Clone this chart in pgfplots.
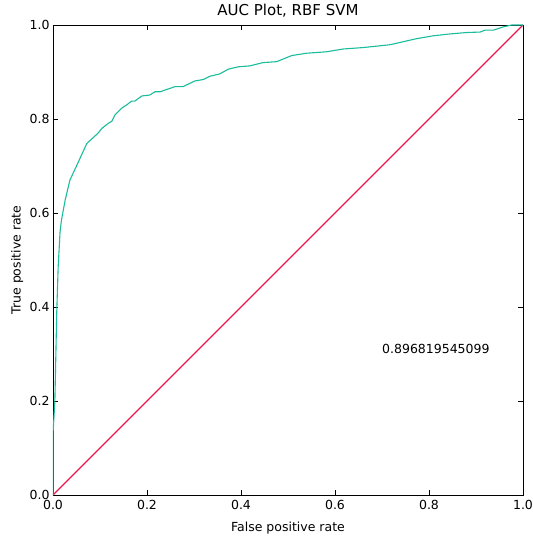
\documentclass[border=0pt]{standalone}
\usepackage{fontspec}
\setmainfont{DejaVu Sans}
\usepackage{pgfplots}
\pgfplotsset{compat=1.18}
\usetikzlibrary{calc}
\definecolor{roc}{RGB}{26,188,156}
\definecolor{diag}{RGB}{235,25,75}
\begin{document}
\begin{tikzpicture}
\begin{axis}[
  name=ax,
  scale only axis,
  width=470pt, height=470pt,
  xmin=0, xmax=1, ymin=0, ymax=1,
  xtick={0,0.2,...,1.0}, ytick={0,0.2,...,1.0},
  tick align=inside,
  major tick length=5pt,
  tick style={black, line width=0.6pt},
  axis line style={black, line width=0.8pt},
  xticklabel style={/pgf/number format/fixed,/pgf/number format/precision=1,/pgf/number format/fixed zerofill, font=\fontsize{12.5}{14}\selectfont, yshift=-1.5pt},
  yticklabel style={/pgf/number format/fixed,/pgf/number format/precision=1,/pgf/number format/fixed zerofill, font=\fontsize{12.5}{14}\selectfont},
  /pgf/number format/assume math mode=true,
  title={AUC Plot, RBF SVM},
  title style={font=\fontsize{15}{17}\selectfont, at={(axis description cs:0.5,1.0074)}, anchor=base},
  xlabel={False positive rate},
  ylabel={True positive rate},
  label style={font=\fontsize{12.5}{14}\selectfont},
  xlabel style={at={(axis description cs:0.5,-0.0787)}, anchor=base},
  ylabel style={at={(axis description cs:-0.069,0.5)}, anchor=base},
]
\addplot[diag, line width=1.1pt] coordinates {(0,0) (1,1)};
\addplot[roc, line width=1.1pt] coordinates {
(0,0) (0.0,0.13) (0.004,0.2) (0.008,0.39) (0.011,0.485) (0.015,0.56) (0.018,0.585)
(0.026,0.628) (0.036,0.67) (0.05,0.70) (0.072,0.748) (0.096,0.77) (0.104,0.78)
(0.118,0.791) (0.125,0.795) (0.132,0.809) (0.146,0.823) (0.157,0.830) (0.167,0.838)
(0.174,0.838) (0.189,0.849) (0.206,0.851) (0.217,0.858) (0.228,0.858) (0.260,0.869)
(0.277,0.869) (0.302,0.881) (0.320,0.884) (0.334,0.891) (0.355,0.896) (0.373,0.906)
(0.394,0.911) (0.419,0.913) (0.447,0.920) (0.476,0.922) (0.508,0.935) (0.540,0.940)
(0.582,0.943) (0.618,0.949) (0.660,0.952) (0.717,0.958) (0.774,0.971) (0.809,0.977)
(0.845,0.981) (0.880,0.984) (0.909,0.985) (0.919,0.989) (0.937,0.989) (0.958,0.996)
(0.976,1.0) (1,1)};
\node[anchor=base west, inner sep=0pt, font=\fontsize{12.5}{14}\selectfont] at (axis cs:0.7,0.3) {0.896819545099};
\end{axis}
\pgfresetboundingbox
\path ($(ax.south west)+(-53pt,-41pt)$) rectangle ($(ax.north east)+(10pt,25pt)$);
\end{tikzpicture}
\end{document}
